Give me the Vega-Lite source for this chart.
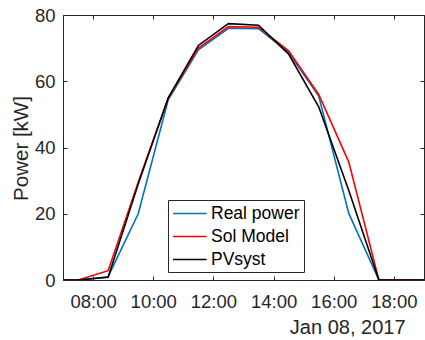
{
  "$schema": "https://vega.github.io/schema/vega-lite/v6.json",
  "width": 361,
  "height": 265,
  "autosize": "none",
  "padding": {"left": 63, "top": 15, "right": 1, "bottom": 60},
  "background": "white",
  "config": {
    "font": "Liberation Sans",
    "view": {"stroke": "#262626", "strokeWidth": 1},
    "axis": {
      "grid": false,
      "domainColor": "#262626",
      "tickColor": "#262626",
      "labelColor": "#262626",
      "titleColor": "#262626",
      "labelFont": "Liberation Sans",
      "titleFont": "Liberation Sans",
      "titleFontWeight": "normal",
      "labelFontSize": 18.5,
      "tickSize": -4
    },
    "legend": {"labelFont": "Liberation Sans"}
  },
  "data": {
    "values": [
      {"time": "2017-01-08T07:00", "series": "Real power", "power": 0},
      {"time": "2017-01-08T07:30", "series": "Real power", "power": 0},
      {"time": "2017-01-08T08:30", "series": "Real power", "power": 1.0},
      {"time": "2017-01-08T09:30", "series": "Real power", "power": 20.0},
      {"time": "2017-01-08T10:30", "series": "Real power", "power": 54.5},
      {"time": "2017-01-08T11:30", "series": "Real power", "power": 69.5},
      {"time": "2017-01-08T12:30", "series": "Real power", "power": 76.0},
      {"time": "2017-01-08T13:30", "series": "Real power", "power": 75.9},
      {"time": "2017-01-08T14:30", "series": "Real power", "power": 68.7},
      {"time": "2017-01-08T15:30", "series": "Real power", "power": 55.5},
      {"time": "2017-01-08T16:30", "series": "Real power", "power": 20.1},
      {"time": "2017-01-08T17:30", "series": "Real power", "power": 0},
      {"time": "2017-01-08T18:30", "series": "Real power", "power": 0},
      {"time": "2017-01-08T19:00", "series": "Real power", "power": 0},
      {"time": "2017-01-08T07:00", "series": "Sol Model", "power": 0},
      {"time": "2017-01-08T07:30", "series": "Sol Model", "power": 0},
      {"time": "2017-01-08T08:30", "series": "Sol Model", "power": 2.8},
      {"time": "2017-01-08T09:30", "series": "Sol Model", "power": 29.5},
      {"time": "2017-01-08T10:30", "series": "Sol Model", "power": 55.0},
      {"time": "2017-01-08T11:30", "series": "Sol Model", "power": 70.0},
      {"time": "2017-01-08T12:30", "series": "Sol Model", "power": 76.5},
      {"time": "2017-01-08T13:30", "series": "Sol Model", "power": 76.3},
      {"time": "2017-01-08T14:30", "series": "Sol Model", "power": 69.2},
      {"time": "2017-01-08T15:30", "series": "Sol Model", "power": 56.0},
      {"time": "2017-01-08T16:30", "series": "Sol Model", "power": 35.6},
      {"time": "2017-01-08T17:30", "series": "Sol Model", "power": 0},
      {"time": "2017-01-08T18:30", "series": "Sol Model", "power": 0},
      {"time": "2017-01-08T19:00", "series": "Sol Model", "power": 0},
      {"time": "2017-01-08T07:00", "series": "PVsyst", "power": 0},
      {"time": "2017-01-08T07:30", "series": "PVsyst", "power": 0},
      {"time": "2017-01-08T08:30", "series": "PVsyst", "power": 0.8},
      {"time": "2017-01-08T09:30", "series": "PVsyst", "power": 29.0},
      {"time": "2017-01-08T10:30", "series": "PVsyst", "power": 55.0},
      {"time": "2017-01-08T11:30", "series": "PVsyst", "power": 70.8},
      {"time": "2017-01-08T12:30", "series": "PVsyst", "power": 77.4},
      {"time": "2017-01-08T13:30", "series": "PVsyst", "power": 76.9},
      {"time": "2017-01-08T14:30", "series": "PVsyst", "power": 68.2},
      {"time": "2017-01-08T15:30", "series": "PVsyst", "power": 52.3},
      {"time": "2017-01-08T16:30", "series": "PVsyst", "power": 27.0},
      {"time": "2017-01-08T17:30", "series": "PVsyst", "power": 0},
      {"time": "2017-01-08T18:30", "series": "PVsyst", "power": 0},
      {"time": "2017-01-08T19:00", "series": "PVsyst", "power": 0}
    ]
  },
  "layer": [
    {
      "mark": {"type": "line", "strokeWidth": 1.6, "clip": true},
      "encoding": {
        "x": {
          "field": "time",
          "type": "temporal",
          "scale": {"domain": [
            {"year": 2017, "month": 1, "date": 8, "hours": 7},
            {"year": 2017, "month": 1, "date": 8, "hours": 19}
          ]},
          "axis": {
            "orient": "bottom",
            "format": "%H:%M",
            "values": [
              {"year": 2017, "month": 1, "date": 8, "hours": 8},
              {"year": 2017, "month": 1, "date": 8, "hours": 10},
              {"year": 2017, "month": 1, "date": 8, "hours": 12},
              {"year": 2017, "month": 1, "date": 8, "hours": 14},
              {"year": 2017, "month": 1, "date": 8, "hours": 16},
              {"year": 2017, "month": 1, "date": 8, "hours": 18}
            ],
            "labelPadding": 16,
            "labelFlush": false,
            "labelOverlap": false,
            "title": "Jan 08, 2017",
            "titleFontSize": 20,
            "titleAlign": "right",
            "titleAnchor": "end",
            "titleBaseline": "middle",
            "titleX": 342,
            "titleY": 47
          }
        },
        "y": {
          "field": "power",
          "type": "quantitative",
          "scale": {"domain": [0, 80]},
          "axis": {
            "orient": "left",
            "values": [0, 20, 40, 60, 80],
            "labelPadding": 12,
            "title": "Power [kW]",
            "titleFontSize": 20.5,
            "titleAngle": -90,
            "titleAlign": "center",
            "titleBaseline": "middle",
            "titleX": -42,
            "titleY": 133
          }
        },
        "color": {
          "field": "series",
          "type": "nominal",
          "sort": ["Real power", "Sol Model", "PVsyst"],
          "scale": {
            "domain": ["Real power", "Sol Model", "PVsyst"],
            "range": ["#0072BD", "#FF0000", "#000000"]
          },
          "legend": {
            "title": null,
            "orient": "none",
            "legendX": 105,
            "legendY": 185,
            "symbolType": "M-1,0H2.95",
            "symbolSize": 289,
            "symbolStrokeWidth": 1.6,
            "labelFontSize": 17.5,
            "labelColor": "#000000",
            "labelOffset": 20,
            "rowPadding": 5,
            "padding": 4,
            "strokeColor": "#262626",
            "fillColor": "white"
          }
        }
      }
    },
    {
      "mark": {"type": "line", "strokeOpacity": 0},
      "encoding": {
        "x": {
          "field": "time",
          "type": "temporal",
          "axis": {
            "orient": "top",
            "labels": false,
            "title": null,
            "values": [
              {"year": 2017, "month": 1, "date": 8, "hours": 8},
              {"year": 2017, "month": 1, "date": 8, "hours": 10},
              {"year": 2017, "month": 1, "date": 8, "hours": 12},
              {"year": 2017, "month": 1, "date": 8, "hours": 14},
              {"year": 2017, "month": 1, "date": 8, "hours": 16},
              {"year": 2017, "month": 1, "date": 8, "hours": 18}
            ]
          }
        },
        "y": {
          "field": "power",
          "type": "quantitative",
          "axis": {
            "orient": "right",
            "labels": false,
            "title": null,
            "values": [0, 20, 40, 60, 80]
          }
        }
      }
    }
  ]
}
